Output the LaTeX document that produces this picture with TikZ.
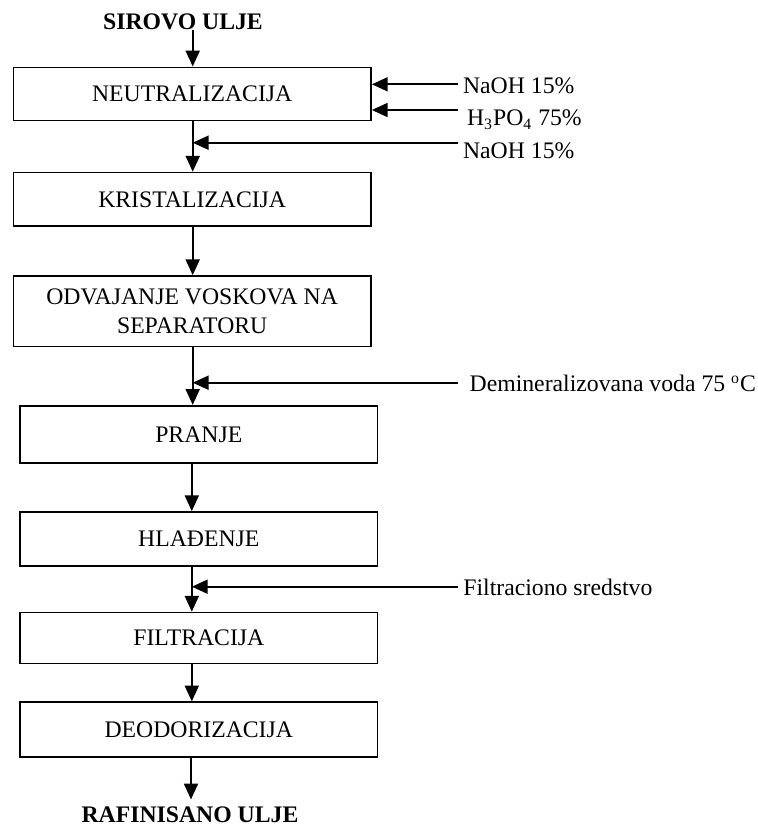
\documentclass[12pt,tikz,border=0pt]{standalone}
\usepackage{fontspec}
\setmainfont{Liberation Serif}
\usetikzlibrary{arrows.meta}

\tikzset{
  proc/.style={draw, line width=0.8pt, minimum width=181pt, align=center, inner sep=2pt},
  flow/.style={line width=1.15pt, -{Triangle[length=8pt,width=7pt]}},
  feed/.style={anchor=base west, inner sep=0pt},
  endtxt/.style={font=\bfseries, anchor=base, inner sep=0pt},
}

\begin{document}
\begin{tikzpicture}[x=0.506pt,y=-0.506pt]
    \useasboundingbox (0,0) rectangle (758,827);

    % osa glavnog toka
    \coordinate (sx) at (192.7,0);
    \coordinate (lx) at (191.8,0);
    \coordinate (fx) at (191,0);

    % ulaz i izlaz
    \node[endtxt] (sirovo) at (183,29.5) {SIROVO ULJE};
    \node[endtxt, inner sep=3.5pt] (rafin) at (190,822.5) {RAFINISANO ULJE};

    % faze procesa
    \node[proc, minimum height=27pt] (neutr) at (192.2,94) {NEUTRALIZACIJA};
    \node[proc, minimum height=27.1pt] (kristal) at (192.2,199.3) {KRISTALIZACIJA};
    \node[proc, minimum height=35.7pt] (odvaj) at (192.2,311.3) {ODVAJANJE VOSKOVA NA\\[0.3pt] SEPARATORU};
    \node[proc, minimum height=29pt] (pranje) at (198.8,434.4) {PRANJE};
    \node[proc, minimum height=27.2pt] (hladj) at (198.8,538.9) {HLAĐENJE};
    \node[proc, minimum height=25.9pt] (filtr) at (198.8,638.1) {FILTRACIJA};
    \node[proc, minimum height=27.6pt] (deodor) at (198.8,729.5) {DEODORIZACIJA};

    % glavni tok
    \draw[flow] (sirovo.south -| sx) -- (neutr.north -| sx);
    \draw[flow] (neutr.south -| sx) -- (kristal.north -| sx);
    \draw[flow] (kristal.south -| sx) -- (odvaj.north -| sx);
    \draw[flow] (odvaj.south -| sx) -- (pranje.north -| sx);
    \draw[flow] (pranje.south -| lx) -- (hladj.north -| lx);
    \draw[flow] (hladj.south -| lx) -- (filtr.north -| lx);
    \draw[flow] (filtr.south -| lx) -- (deodor.north -| lx);
    \draw[flow] (deodor.south -| fx) -- (rafin.north -| fx);

    % dodaci
    \coordinate (f1) at (458,84.3);
    \coordinate (f2) at (458,110);
    \coordinate (f3) at (458,142.7);
    \coordinate (f4) at (458,382.7);
    \coordinate (f5) at (458,586.7);
    \draw[flow] (f1) -- (f1 -| neutr.east);
    \draw[flow] (f2) -- (f2 -| neutr.east);
    \draw[flow] (f3) -- (f3 -| sx);
    \draw[flow] (f4) -- (f4 -| sx);
    \draw[flow] (f5) -- (f5 -| lx);

    % oznake dodataka
    \node[feed] (naoh1) at (462.7,93.3) {NaOH 15\%};
    \node[feed] (fosf) at (466.7,125.5) {H\textsubscript{3}PO\textsubscript{4} 75\%};
    \node[feed] (naoh2) at (462.7,158) {NaOH 15\%};
    \node[feed] (voda) at (469.3,391.7) {Demineralizovana voda 75 \textsuperscript{o}C};
    \node[feed] (sredstvo) at (463,595.5) {Filtraciono sredstvo};
\end{tikzpicture}
\end{document}
